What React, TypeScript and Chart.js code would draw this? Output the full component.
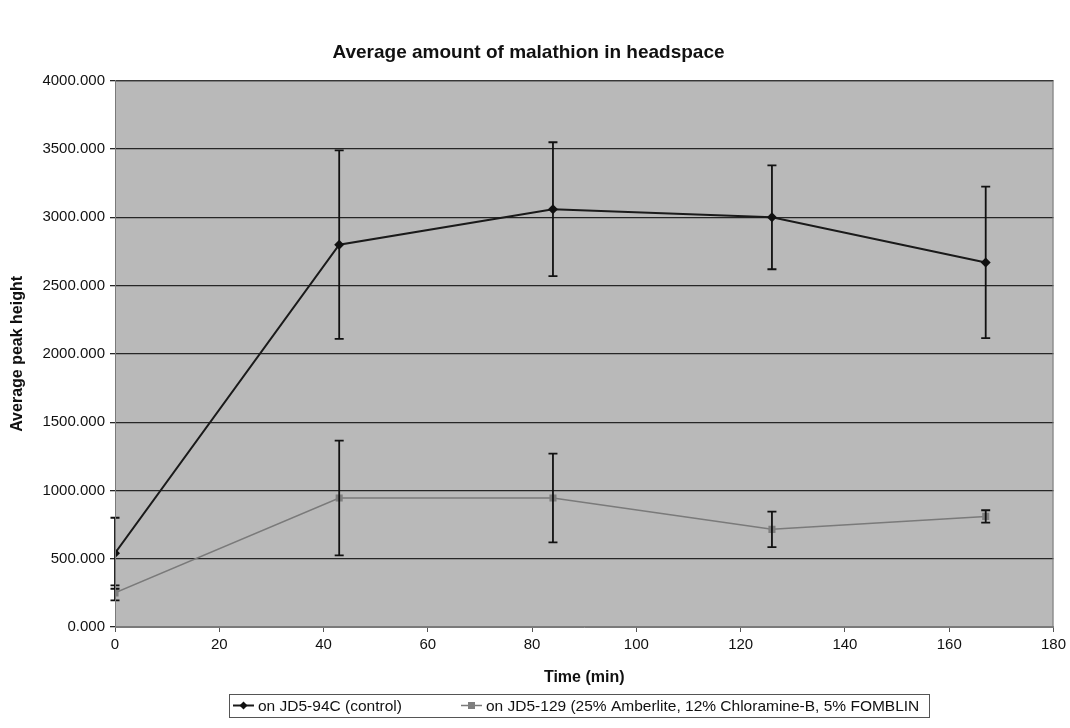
import React, { useEffect, useRef } from 'react';
import { Chart, registerables } from 'chart.js';

Chart.register(...registerables);

const chartTitle = 'Average amount of malathion in headspace';
const xAxisTitle = 'Time (min)';
const yAxisTitle = 'Average peak height';

const timeMin = [0, 43, 84, 126, 167];
const controlMean = [540, 2800, 3060, 3000, 2670];
const controlErr = [260, 690, 490, 380, 555];
const treatedMean = [250, 945, 945, 715, 810];
const treatedErr = [55, 420, 325, 130, 45];

const seriesLabels = [
  'on JD5-94C (control)',
  'on JD5-129 (25% Amberlite, 12% Chloramine-B, 5% FOMBLIN',
];

const xMin = 0;
const xMax = 180;
const xStep = 20;
const yMin = 0;
const yMax = 4000;
const yStep = 500;

const FONT = '"Liberation Sans", Arial, sans-serif';

const plotBackground = {
  id: 'plotBackground',
  beforeDraw(chart: any) {
    const { ctx, chartArea } = chart;
    ctx.save();
    ctx.fillStyle = '#b9b9b9';
    ctx.fillRect(chartArea.left, chartArea.top, chartArea.right - chartArea.left, chartArea.bottom - chartArea.top);
    ctx.restore();
  },
  afterDraw(chart: any) {
    const { ctx, chartArea } = chart;
    ctx.save();
    ctx.strokeStyle = '#7a7a7a';
    ctx.lineWidth = 1;
    ctx.strokeRect(chartArea.left + 0.5, chartArea.top + 0.5, chartArea.right - chartArea.left - 1, chartArea.bottom - chartArea.top - 1);
    ctx.restore();
  },
};

const errorBars = {
  id: 'errorBars',
  afterDatasetsDraw(chart: any) {
    const { ctx } = chart;
    const xs = chart.scales.x;
    const ys = chart.scales.y;
    const errs = [controlErr, treatedErr];
    chart.data.datasets.forEach((ds: any, i: number) => {
      const e = errs[i];
      ctx.save();
      ctx.strokeStyle = '#111';
      ctx.lineWidth = 1.8;
      ds.data.forEach((pt: any, j: number) => {
        const x = xs.getPixelForValue(pt.x);
        const yTop = ys.getPixelForValue(pt.y + e[j]);
        const yBot = ys.getPixelForValue(pt.y - e[j]);
        ctx.beginPath();
        ctx.moveTo(x, yTop);
        ctx.lineTo(x, yBot);
        ctx.moveTo(x - 4.5, yTop);
        ctx.lineTo(x + 4.5, yTop);
        ctx.moveTo(x - 4.5, yBot);
        ctx.lineTo(x + 4.5, yBot);
        ctx.stroke();
      });
      ctx.restore();
    });
  },
};

const customLegend = {
  id: 'customLegend',
  afterDraw(chart: any) {
    const { ctx } = chart;
    const boxL = 229, boxT = 694, boxW = 700, boxH = 23;
    const cy = boxT + boxH / 2;
    ctx.save();
    ctx.strokeStyle = '#555';
    ctx.lineWidth = 1;
    ctx.strokeRect(boxL + 0.5, boxT + 0.5, boxW, boxH);
    ctx.font = `15.5px ${FONT}`;
    ctx.textBaseline = 'middle';
    ctx.fillStyle = '#111';
    const items = [
      { x: 233, color: '#1a1a1a', marker: 'diamond', fill: '#111' },
      { x: 461, color: '#7a7a7a', marker: 'square', fill: '#7f7f7f' },
    ];
    items.forEach((it, i) => {
      ctx.strokeStyle = it.color;
      ctx.lineWidth = i === 0 ? 2 : 1.5;
      ctx.beginPath();
      ctx.moveTo(it.x, cy);
      ctx.lineTo(it.x + 21, cy);
      ctx.stroke();
      ctx.fillStyle = it.fill;
      const mx = it.x + 10.5;
      if (it.marker === 'diamond') {
        ctx.beginPath();
        ctx.moveTo(mx, cy - 4);
        ctx.lineTo(mx + 4, cy);
        ctx.lineTo(mx, cy + 4);
        ctx.lineTo(mx - 4, cy);
        ctx.closePath();
        ctx.fill();
      } else {
        ctx.fillRect(mx - 3.5, cy - 3.5, 7, 7);
      }
      ctx.fillStyle = '#111';
      ctx.fillText(seriesLabels[i], it.x + 25, cy + 1);
    });
    ctx.restore();
  },
};

export default function App() {
  const ref = useRef<HTMLCanvasElement | null>(null);

  useEffect(() => {
    if (!ref.current) return;
    const chart = new Chart(ref.current, {
      type: 'line',
      data: {
        datasets: [
          {
            label: seriesLabels[0],
            data: timeMin.map((t, i) => ({ x: t, y: controlMean[i] })),
            borderColor: '#1a1a1a',
            backgroundColor: '#111',
            borderWidth: 2,
            pointStyle: 'rectRot',
            pointRadius: 5,
            pointBorderWidth: 0,
            tension: 0,
          },
          {
            label: seriesLabels[1],
            data: timeMin.map((t, i) => ({ x: t, y: treatedMean[i] })),
            borderColor: '#7a7a7a',
            backgroundColor: '#7f7f7f',
            borderWidth: 1.5,
            pointStyle: 'rect',
            pointRadius: 5,
            pointBorderWidth: 0,
            tension: 0,
          },
        ],
      },
      options: {
        animation: false,
        responsive: false,
        devicePixelRatio: 1,
        layout: { padding: { left: 0, right: 13, top: 0, bottom: 0 } },
        plugins: {
          legend: { display: false },
          tooltip: { enabled: false },
          title: {
            display: true,
            text: chartTitle,
            color: '#111',
            font: { family: FONT, size: 19, weight: 'bold' },
            padding: { top: 41, bottom: 17 },
          },
        },
        scales: {
          x: {
            type: 'linear',
            min: xMin,
            max: xMax,
            ticks: {
              stepSize: xStep,
              color: '#111',
              font: { family: FONT, size: 15 },
              padding: 4,
              maxRotation: 0,
            },
            grid: { drawOnChartArea: false, drawTicks: true, tickLength: 5, color: '#555' },
            border: { display: true, color: '#7a7a7a' },
            title: {
              display: true,
              text: xAxisTitle,
              color: '#111',
              font: { family: FONT, size: 16, weight: 'bold' },
              padding: { top: 0, bottom: 41 },
            },
            afterFit(scale: any) {
              scale.height = 101;
            },
          },
          y: {
            type: 'linear',
            min: yMin,
            max: yMax,
            ticks: {
              stepSize: yStep,
              color: '#111',
              font: { family: FONT, size: 15 },
              padding: 5,
              callback: (v: any) => Number(v).toFixed(3),
            },
            grid: { drawOnChartArea: true, drawTicks: true, tickLength: 5, color: '#262626', lineWidth: 1.3 },
            border: { display: true, color: '#7a7a7a' },
            title: {
              display: true,
              text: yAxisTitle,
              color: '#111',
              font: { family: FONT, size: 16, weight: 'bold' },
              padding: { top: 8, bottom: 0 },
            },
            afterFit(scale: any) {
              scale.width = 115;
            },
          },
        },
      },
      plugins: [plotBackground, errorBars, customLegend],
    });
    return () => chart.destroy();
  }, []);

  return (
    <div style={{ position: 'absolute', left: 0, top: 0, width: 1070, height: 728, background: '#fff' }}>
      <canvas ref={ref} width={1070} height={728} style={{ display: 'block', width: 1070, height: 728 }} />
    </div>
  );
}
